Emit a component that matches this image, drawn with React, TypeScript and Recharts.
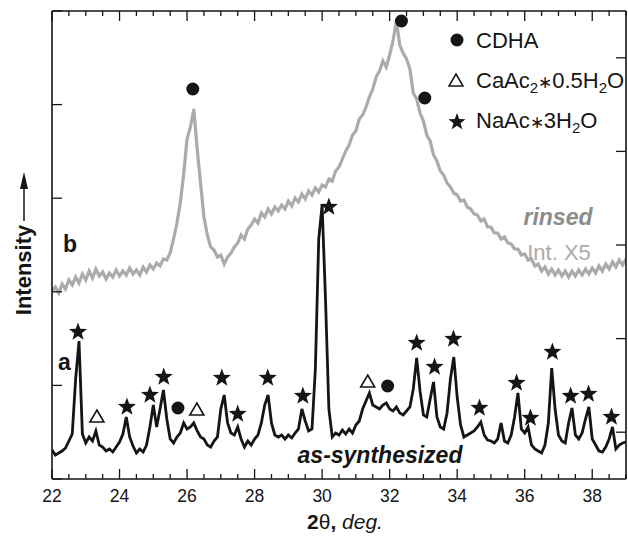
import React from "react";
import { ComposedChart, Line, Scatter, XAxis, YAxis } from "recharts";

const FONT = "'Liberation Sans', Arial, Helvetica, sans-serif";
const INK = "#151515";
const GRAY = "#ababab";

// 2theta grid, deg
const twoTheta = [
  22.0, 22.1, 22.2, 22.3, 22.4, 22.5, 22.6, 22.7, 22.8, 22.9,
  23.0, 23.1, 23.2, 23.3, 23.4, 23.5, 23.6, 23.7, 23.8, 23.9,
  24.0, 24.1, 24.2, 24.3, 24.4, 24.5, 24.6, 24.7, 24.8, 24.9,
  25.0, 25.1, 25.2, 25.3, 25.4, 25.5, 25.6, 25.7, 25.8, 25.9,
  26.0, 26.1, 26.2, 26.3, 26.4, 26.5, 26.6, 26.7, 26.8, 26.9,
  27.0, 27.1, 27.2, 27.3, 27.4, 27.5, 27.6, 27.7, 27.8, 27.9,
  28.0, 28.1, 28.2, 28.3, 28.4, 28.5, 28.6, 28.7, 28.8, 28.9,
  29.0, 29.1, 29.2, 29.3, 29.4, 29.5, 29.6, 29.7, 29.8, 29.9,
  30.0, 30.1, 30.2, 30.3, 30.4, 30.5, 30.6, 30.7, 30.8, 30.9,
  31.0, 31.1, 31.2, 31.3, 31.4, 31.5, 31.6, 31.7, 31.8, 31.9,
  32.0, 32.1, 32.2, 32.3, 32.4, 32.5, 32.6, 32.7, 32.8, 32.9,
  33.0, 33.1, 33.2, 33.3, 33.4, 33.5, 33.6, 33.7, 33.8, 33.9,
  34.0, 34.1, 34.2, 34.3, 34.4, 34.5, 34.6, 34.7, 34.8, 34.9,
  35.0, 35.1, 35.2, 35.3, 35.4, 35.5, 35.6, 35.7, 35.8, 35.9,
  36.0, 36.1, 36.2, 36.3, 36.4, 36.5, 36.6, 36.7, 36.8, 36.9,
  37.0, 37.1, 37.2, 37.3, 37.4, 37.5, 37.6, 37.7, 37.8, 37.9,
  38.0, 38.1, 38.2, 38.3, 38.4, 38.5, 38.6, 38.7, 38.8, 38.9,
  39.0,
];

// trace a, as-synthesized (arb. units)
const asSynthesized = [
  29, 24, 26, 28, 31, 38, 45, 100, 138, 45,
  36, 42, 38, 48, 34, 32, 28, 30, 27, 32,
  37, 45, 62, 42, 33, 26, 30, 27, 34, 52,
  74, 52, 70, 89, 60, 40, 36, 42, 46, 56,
  50, 52, 56, 48, 42, 40, 34, 32, 38, 42,
  70, 84, 56, 46, 44, 52, 40, 32, 38, 34,
  40, 44, 56, 74, 84, 56, 44, 42, 44, 40,
  44, 41, 46, 50, 70, 58, 48, 50, 110, 240,
  274, 180, 70, 42, 46, 44, 49, 45, 50, 46,
  54, 58, 70, 78, 86, 74, 72, 70, 74, 76,
  70, 68, 72, 66, 64, 68, 72, 90, 121, 88,
  64, 62, 80, 97, 62, 52, 50, 66, 100, 122,
  82, 54, 42, 44, 46, 48, 52, 57, 44, 39,
  38, 36, 40, 56, 38, 36, 44, 62, 86, 50,
  46, 52, 34, 30, 28, 26, 34, 56, 111, 70,
  44, 38, 36, 56, 71, 44, 40, 46, 60, 72,
  40, 34, 28, 27, 32, 40, 52, 30, 34, 36,
  37,
];

// trace b, rinsed (x5, offset)
const rinsed = [
  188, 192, 186, 195, 190, 199, 194, 202, 196, 205,
  199, 208, 201, 210, 203, 207, 200, 206, 202, 209,
  203, 208, 204, 211, 205, 209, 204, 212, 207, 214,
  210, 216, 213, 220, 219, 226, 240, 256, 276, 305,
  340, 352, 370, 330, 296, 262, 244, 232, 229, 222,
  224, 215, 222, 226, 232, 236, 244, 240, 250, 254,
  260, 256, 266, 262, 270, 265, 272, 268, 274, 270,
  278, 273, 281, 277, 285, 280, 288, 284, 291, 287,
  294, 292, 300, 298, 308, 312, 320, 328, 334, 344,
  348, 360, 364, 372, 382, 390, 402, 408, 418, 412,
  424, 438, 458, 434, 426, 420, 410, 386, 380, 366,
  358, 344, 338, 324, 318, 308, 304, 296, 292, 286,
  284, 278, 279, 272, 270, 265, 264, 258, 260, 252,
  252, 246, 246, 240, 242, 236, 235, 230, 230, 224,
  225, 219, 220, 213, 215, 208, 212, 205, 210, 204,
  209, 203, 208, 202, 208, 203, 209, 204, 210, 205,
  211, 206, 213, 208, 215, 210, 217, 212, 219, 214,
  220,
];

// phase markers
const cdhaTheta = [26.17, 32.35, 33.04, 25.73, 31.94];
const cdhaY = [390, 458, 381, 71, 93];
const caAcTheta = [23.33, 26.29, 31.35];
const caAcY = [62, 69, 97];
const naAcTheta = [22.77, 24.22, 24.9, 25.31, 27.03, 27.5, 28.39, 29.43, 30.2, 32.8, 33.33, 33.89, 34.66, 35.76, 36.17, 36.82, 37.36, 37.89, 38.57];
const naAcY = [147, 72, 84, 102, 101, 65, 101, 83, 272, 136, 112, 140, 71, 96, 61, 127, 83, 85, 62];

const xTicks = [
  22, 22.5, 23, 23.5, 24, 24.5, 25, 25.5, 26, 26.5, 27, 27.5, 28, 28.5, 29, 29.5, 30, 30.5,
  31, 31.5, 32, 32.5, 33, 33.5, 34, 34.5, 35, 35.5, 36, 36.5, 37, 37.5, 38, 38.5, 39,
];
const yTicksLeft = [0, 93.6, 187.2, 280.8, 374.4, 468];
const yTicksRight = [46.8, 140.4, 234, 327.6, 421.2];

const rows = twoTheta.map((t, i) => ({ t, a: asSynthesized[i], b: rinsed[i] }));
const pts = (ts: number[], ys: number[]) => ts.map((t, i) => ({ t, h: ys[i] }));

function starPoints(cx: number, cy: number, R: number, r: number) {
  const out: string[] = [];
  for (let i = 0; i < 10; i++) {
    const ang = (-90 + i * 36) * (Math.PI / 180);
    const rad = i % 2 === 0 ? R : r;
    out.push(`${cx + rad * Math.cos(ang)},${cy + rad * Math.sin(ang)}`);
  }
  return out.join(" ");
}

const Dot = ({ cx, cy }: any) => <circle cx={cx} cy={cy} r={6.5} fill={INK} />;
const Tri = ({ cx, cy }: any) => (
  <path d={`M${cx},${cy - 7} L${cx + 7},${cy + 5} L${cx - 7},${cy + 5} Z`} fill="#fff" stroke={INK} strokeWidth={1.6} />
);
const Star = ({ cx, cy }: any) => <polygon points={starPoints(cx, cy, 9.5, 3.9)} fill={INK} />;

const BottomTick = ({ x, y, payload }: any) => {
  const v = payload.value;
  const major = v % 2 === 0;
  return (
    <g>
      <line x1={x} y1={y} x2={x} y2={y - (major ? 10 : 5)} stroke={INK} strokeWidth={1.3} />
      {major && (
        <text x={x} y={y + 23} textAnchor="middle" fontSize={17.5} fontFamily={FONT} fill={INK}>{v}</text>
      )}
    </g>
  );
};
const TopTick = ({ x, y, payload }: any) => {
  const major = payload.value % 2 === 0;
  return <line x1={x} y1={y} x2={x} y2={y + (major ? 10 : 5)} stroke={INK} strokeWidth={1.3} />;
};
const LeftTick = ({ x, y }: any) => <line x1={x} y1={y} x2={x + 10} y2={y} stroke={INK} strokeWidth={1.3} />;
const RightTick = ({ x, y }: any) => <line x1={x} y1={y} x2={x - 10} y2={y} stroke={INK} strokeWidth={1.3} />;

const sub = (s: string) => <tspan fontSize={15} dy={5}>{s}</tspan>;

export default function App() {
  const axisLine = { stroke: INK, strokeWidth: 1.6 };
  return (
    <div style={{ position: "relative", width: 628, height: 536, background: "#fff" }}>
      <style>{"body{margin:0}"}</style>
      <ComposedChart width={628} height={536} data={rows} margin={{ top: 1, right: 1, bottom: 27, left: 42 }}>
        <XAxis xAxisId="x" dataKey="t" type="number" domain={[22, 39]} ticks={xTicks} interval={0}
          height={30} tickSize={0} tickMargin={0} tickLine={false} axisLine={axisLine} tick={BottomTick} allowDataOverflow />
        <XAxis xAxisId="top" orientation="top" dataKey="t" type="number" domain={[22, 39]} ticks={xTicks} interval={0}
          height={10} tickSize={0} tickMargin={0} tickLine={false} axisLine={axisLine} tick={TopTick} allowDataOverflow />
        <YAxis yAxisId="l" type="number" domain={[0, 468]} ticks={yTicksLeft} interval={0} width={10}
          tickSize={0} tickMargin={0} tickLine={false} axisLine={axisLine} tick={LeftTick} allowDataOverflow />
        <YAxis yAxisId="r" orientation="right" type="number" domain={[0, 468]} ticks={yTicksRight} interval={0} width={1}
          tickSize={0} tickMargin={0} tickLine={false} axisLine={axisLine} tick={RightTick} allowDataOverflow />
        <Line xAxisId="x" yAxisId="l" dataKey="b" type="linear" stroke={GRAY} strokeWidth={3.2} dot={false} isAnimationActive={false} />
        <Line xAxisId="x" yAxisId="l" dataKey="a" type="linear" stroke={INK} strokeWidth={2.8} dot={false} isAnimationActive={false} />
        <Scatter xAxisId="x" yAxisId="l" data={pts(cdhaTheta, cdhaY)} dataKey="h" shape={Dot} isAnimationActive={false} />
        <Scatter xAxisId="x" yAxisId="l" data={pts(caAcTheta, caAcY)} dataKey="h" shape={Tri} isAnimationActive={false} />
        <Scatter xAxisId="x" yAxisId="l" data={pts(naAcTheta, naAcY)} dataKey="h" shape={Star} isAnimationActive={false} />
      </ComposedChart>

      <svg width={628} height={536} style={{ position: "absolute", left: 0, top: 0, pointerEvents: "none" }} fontFamily={FONT}>
        {/* legend */}
        <circle cx={457} cy={40} r={6.5} fill={INK} />
        <text x={476} y={48} fontSize={22} fill={INK}>CDHA</text>
        <path d="M456,74 L463,86 L449,86 Z" fill="#fff" stroke={INK} strokeWidth={1.5} />
        <text x={476} y={88} fontSize={22} fill={INK}>
          CaAc{sub("2")}<tspan dy={-5} fontSize={17}>∗</tspan>0.5H{sub("2")}<tspan dy={-5}>O</tspan>
        </text>
        <polygon points={starPoints(457, 122, 9, 3.7)} fill={INK} />
        <text x={476} y={128} fontSize={22} fill={INK}>
          NaAc<tspan fontSize={17}>∗</tspan>3H{sub("2")}<tspan dy={-5}>O</tspan>
        </text>

        {/* trace labels */}
        <text x={63} y={252} fontSize={23} fontWeight="bold" fill={INK}>b</text>
        <text x={58} y={370} fontSize={23} fontWeight="bold" fill={INK}>a</text>
        <text x={558} y={225} fontSize={23} fontWeight="bold" fontStyle="italic" fill="#8c8c8c" textAnchor="middle">rinsed</text>
        <text x={559} y={260} fontSize={22} fill={GRAY} textAnchor="middle">Int. X5</text>
        <text x={380} y={463} fontSize={23} fontWeight="bold" fontStyle="italic" fill={INK} textAnchor="middle">as-synthesized</text>

        {/* axis titles */}
        <text x={345} y={529} fontSize={21} fill={INK} textAnchor="middle">
          <tspan fontWeight="bold">2</tspan><tspan>θ</tspan><tspan fontWeight="bold">, </tspan><tspan fontStyle="italic">deg.</tspan>
        </text>
        <text x={31} y={270} fontSize={22} fontWeight="bold" fill={INK} textAnchor="middle" transform="rotate(-90 31 270)">Intensity</text>
        <line x1={24} y1={221} x2={24} y2={185} stroke={INK} strokeWidth={1.5} />
        <path d="M24,172 L28,189 L20,189 Z" fill={INK} />
      </svg>
    </div>
  );
}
